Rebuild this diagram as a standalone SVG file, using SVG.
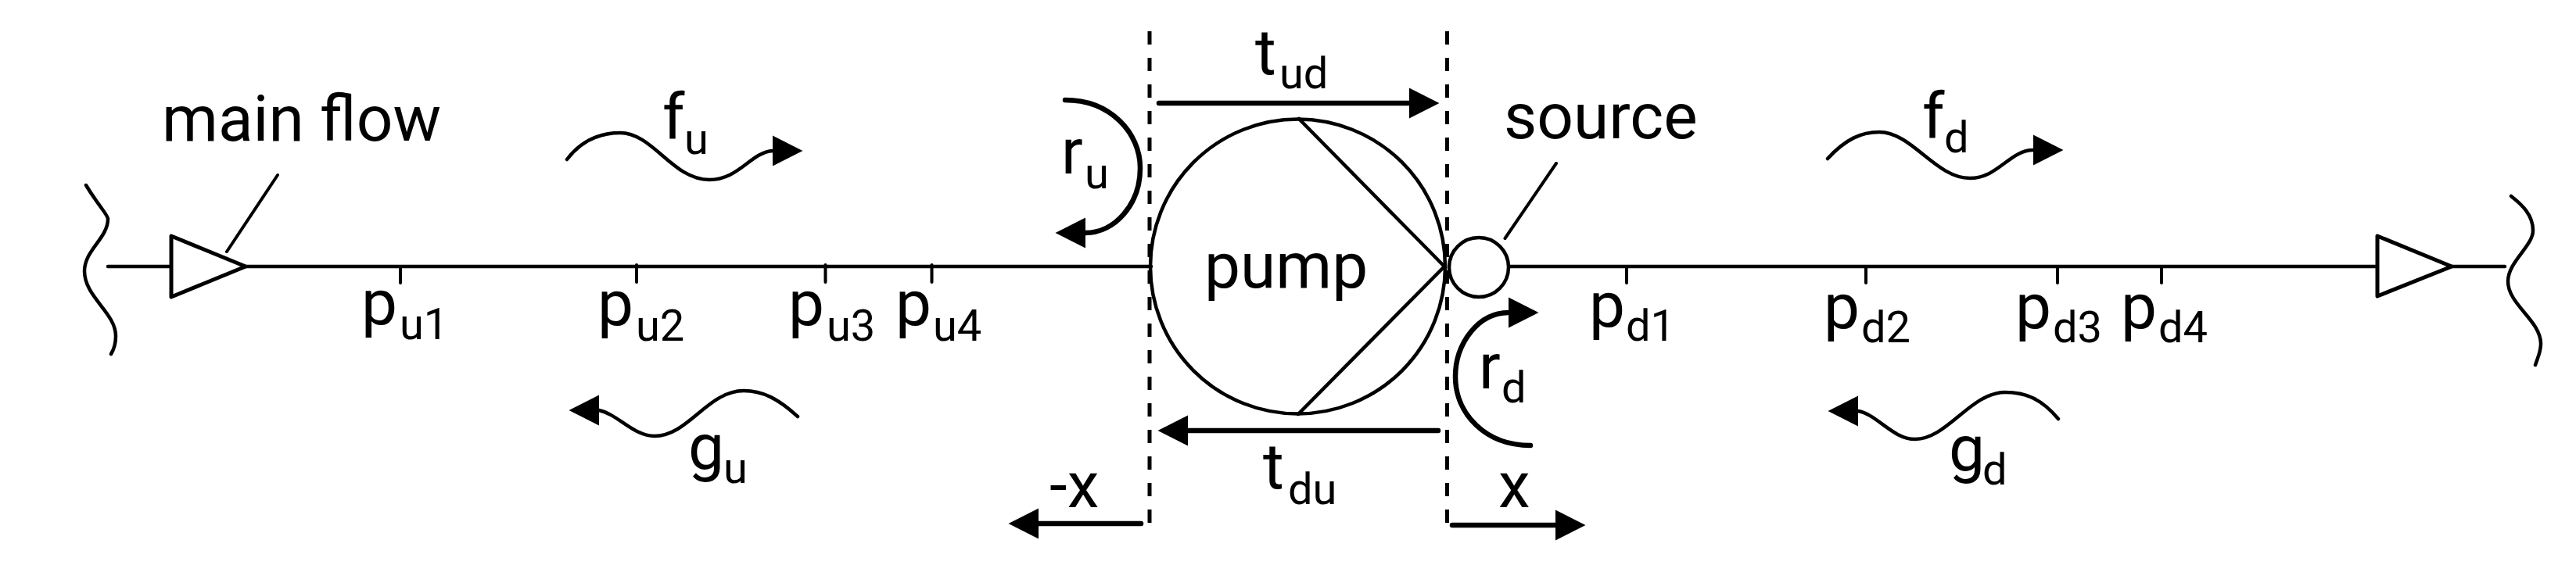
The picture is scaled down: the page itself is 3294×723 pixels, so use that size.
<svg xmlns="http://www.w3.org/2000/svg" width="3294" height="723" viewBox="0 0 3294 723">
<style>
text{font-family:Roboto,"Liberation Sans",sans-serif;font-size:82px;fill:#000}
.s{font-size:56px}
.l{fill:none;stroke:#000;stroke-width:4.500;stroke-linecap:round;stroke-linejoin:round}
.n{stroke-width:4}
.a{stroke-width:6.500}
.d{stroke-width:5;stroke-dasharray:17 17;stroke-linecap:butt}
.w{fill:#fff;stroke:#000;stroke-width:5;stroke-linejoin:round}
</style>
<defs>
<marker id="r" markerUnits="userSpaceOnUse" markerWidth="40" markerHeight="40" refX="0" refY="20" orient="0"><path d="M0 .5L38.500 20L0 39.500Z"/></marker>
<marker id="f" markerUnits="userSpaceOnUse" markerWidth="40" markerHeight="40" refX="39" refY="20" orient="0"><path d="M39 .5L.5 20L39 39.500Z"/></marker>
</defs>
<rect width="3294" height="723" fill="#fff"/>
<g id="connectors">
<path class="l d" d="M1470 40V684"/>
<path class="l d" d="M1850.500 40V682"/>
<path class="l" d="M138 341H1472M1930 341H3203"/>
<path class="l n" d="M512 341V362M814 339V361M1055.500 339V361M1191.500 339V361M2080 341V362M2386 341V362M2631 341V362M2764 341V362"/>
<path class="l n" d="M355 224L290 322M1990 209L1924.500 305"/>
<path class="l" d="M110 237C125 262 138 275 138 280C138 305 108 320 108 347C108 380 148 400 148 430C148 440 145 448 142 453"/>
<path class="l" d="M3211 251C3225 262 3239 275 3239 295C3239 315 3207 335 3207 360C3207 390 3249 410 3249 440C3249 450 3245 458 3242 467"/>
<path class="l" marker-end="url(#r)" d="M725 204C745 178 770 170 793 170C835 170 860 230 907 230C945 230 960 195 988 193"/>
<path class="l" marker-end="url(#r)" d="M2337 203C2360 178 2380 169 2403 169C2445 169 2475 228 2519 228C2555 228 2570 192 2600 192"/>
<path class="l" marker-end="url(#f)" d="M1020 533C995 510 975 500 951 500C905 500 880 558 837 558C810 558 790 530 766 525"/>
<path class="l" marker-end="url(#f)" d="M2632 536C2610 510 2590 502 2564 502C2520 502 2490 562 2449 562C2420 562 2400 530 2376 526"/>
<path class="l a" marker-end="url(#r)" d="M1482 132H1802"/>
<path class="l a" marker-end="url(#f)" d="M1839 551H1519"/>
<path class="l a" marker-end="url(#f)" d="M1459 670H1328"/>
<path class="l a" marker-end="url(#r)" d="M1857 672H1989"/>
<path class="l a" marker-end="url(#f)" d="M1362 128C1420 128 1458 170 1458 215C1458 262 1425 298 1388 298"/>
<path class="l a" marker-end="url(#r)" d="M1957 570C1900 570 1861 530 1861 482C1861 440 1890 400 1929 400"/>
</g>
<g id="valve-in"><path class="w" d="M219 302L314 341L219 380Z"/></g>
<g id="valve-out"><path class="w" d="M3040 302L3135 341L3040 379Z"/></g>
<g id="pump">
<circle class="l" cx="1659.500" cy="341" r="188.500"/>
<path class="l" d="M1661 152L1847 341L1660 530"/>
<text x="1540" y="368">pump</text>
</g>
<g id="source"><circle class="l" cx="1891" cy="342" r="38"/></g>
<g id="labels">
<text x="207" y="180">main flow</text>
<text x="1923" y="177">source</text>
<text x="847" y="178">f<tspan class="s" x="875" y="197">u</tspan></text>
<text x="2458" y="177">f<tspan class="s" x="2486" y="195">d</tspan></text>
<text x="880" y="600">g<tspan class="s" x="925" y="618">u</tspan></text>
<text x="2492" y="602">g<tspan class="s" x="2535" y="620">d</tspan></text>
<text x="1605" y="95">t<tspan class="s" x="1636" y="113">ud</tspan></text>
<text x="1615" y="625">t<tspan class="s" x="1647" y="645">du</tspan></text>
<text x="1357" y="222">r<tspan class="s" x="1387" y="241">u</tspan></text>
<text x="1891" y="497">r<tspan class="s" x="1920" y="515">d</tspan></text>
<text x="1342" y="649">-x</text>
<text x="1916" y="649">x</text>
<text x="462" y="415">p<tspan class="s" x="511" y="434">u1</tspan></text>
<text x="764" y="416">p<tspan class="s" x="813" y="436">u2</tspan></text>
<text x="1008" y="416">p<tspan class="s" x="1057" y="436">u3</tspan></text>
<text x="1145" y="416">p<tspan class="s" x="1193" y="436">u4</tspan></text>
<text x="2032" y="418">p<tspan class="s" x="2079" y="436">d1</tspan></text>
<text x="2332" y="420">p<tspan class="s" x="2380" y="438">d2</tspan></text>
<text x="2577" y="420">p<tspan class="s" x="2625" y="438">d3</tspan></text>
<text x="2712" y="420">p<tspan class="s" x="2760" y="438">d4</tspan></text>
</g>
</svg>
